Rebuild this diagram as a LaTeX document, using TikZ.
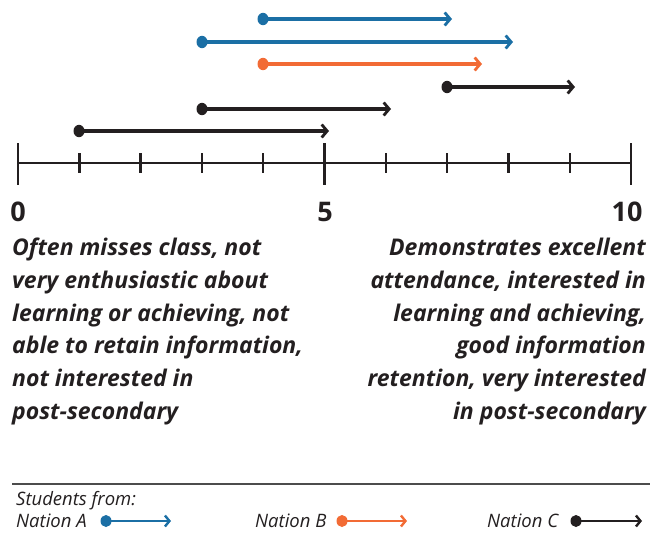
\documentclass[tikz,border=0pt]{standalone}
\usepackage{fontspec}
\setmainfont{Open Sans}
\usetikzlibrary{arrows.meta}
\definecolor{nblue}{HTML}{1B6FA5}
\definecolor{norange}{HTML}{F26B35}
\definecolor{nblack}{HTML}{231F20}
\begin{document}
\begin{tikzpicture}[x=1pt,y=-1pt,
  seg/.style={line width=3.2pt,-{Straight Barb[length=5.5pt,width=13pt,line width=2.8pt]}},
  axisline/.style={line width=2.4pt,color=nblack},
  num/.style={font=\fontsize{27}{27}\selectfont\bfseries,text=nblack,inner sep=0pt},
  desc/.style={font=\fontsize{23}{32.7}\selectfont\bfseries\itshape,text=nblack,inner sep=0pt},
  leg/.style={font=\fontsize{18.5}{20}\selectfont\itshape,text=nblack,inner sep=0pt,text depth=0pt,anchor=base west},
  legseg/.style={line width=2.8pt,-{Straight Barb[length=4.5pt,width=11pt,line width=2.4pt]}}
]
\useasboundingbox (0,0) rectangle (650,533);
% axis
\coordinate (a0) at (18,163);
\coordinate (a10) at (631,163);
\draw[axisline] (a0) -- (a10);
\foreach \i in {0,5,10} {
  \coordinate (mt\i) at ({18+61.3*\i},143);
  \coordinate (mb\i) at ({18+61.3*\i},185);
  \draw[axisline] (mt\i) -- (mb\i);
}
\foreach \i in {1,2,3,4,6,7,8,9} {
  \coordinate (t\i) at ({18+61.3*\i},153);
  \coordinate (b\i) at ({18+61.3*\i},173);
  \draw[axisline] (t\i) -- (b\i);
}
\node[num] (n0) at (18,212) {0};
\node[num] (n5) at (325,212) {5};
\node[num] (n10) at (627,212) {10};
% arrows
\foreach \name/\xs/\xe/\yy/\col in {r1/263/452/19/nblue, r2/202/513/42/nblue, r3/263/482/64/norange, r4/447/575/87/nblack, r5/202/391/109/nblack, r6/79/329/131/nblack} {
  \coordinate (\name s) at (\xs,\yy);
  \coordinate (\name e) at (\xe,\yy);
  \draw[seg,color=\col] (\name s) -- (\name e);
  \fill[\col] (\name s) ellipse (5.5pt and 6.2pt);
}
% descriptions
\node[desc,anchor=north west,align=left] (left) at (12,238) {Often misses class, not\\very enthusiastic about\\learning or achieving, not\\able to retain information,\\not interested in\\post-secondary};
\node[desc,anchor=north east,align=right] (right) at (646,238) {Demonstrates excellent\\attendance, interested in\\learning and achieving,\\good information\\retention, very interested\\in post-secondary};
% legend
\coordinate (l1) at (12,484);
\coordinate (l2) at (650,484);
\draw[line width=1.3pt,color=black!70] (l1) -- (l2);
\node[leg] (stud) at (16,505) {Students from:};
\node[leg] (na) at (16,527) {Nation A};
\node[leg] (nb) at (255,527) {Nation B};
\node[leg] (nc) at (487,527) {Nation C};
\foreach \name/\xs/\xe/\col in {la/106/171/nblue, lb/342/407/norange, lc/576/642/nblack} {
  \coordinate (\name s) at (\xs,521);
  \coordinate (\name e) at (\xe,521);
  \draw[legseg,color=\col] (\name s) -- (\name e);
  \fill[\col] (\name s) ellipse (5.5pt and 6pt);
}
\end{tikzpicture}
\end{document}
